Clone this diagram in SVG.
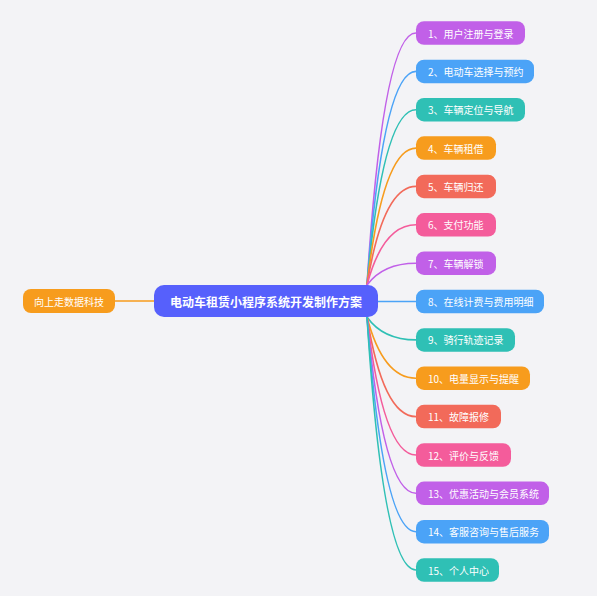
<svg xmlns="http://www.w3.org/2000/svg" width="597" height="596" viewBox="0 0 597 596">
<style>
.t{font-family:"Noto Sans CJK SC","Noto Sans",sans-serif;fill:#fff;dominant-baseline:central}
.s{font-size:10px}
.c{fill:none;stroke-width:1.6;stroke-linecap:round}
.pu{fill:#c160e8}.bl{fill:#4ba3f7}.te{fill:#2fc0b5}.or{fill:#f79c1d}.co{fill:#f26a5a}.pk{fill:#f45c9b}
.spu{stroke:#c160e8}.sbl{stroke:#4ba3f7}.ste{stroke:#2fc0b5}.sor{stroke:#f79c1d}.sco{stroke:#f26a5a}.spk{stroke:#f45c9b}
</style>
<rect width="597" height="596" fill="#f3f3f6"/>
<g id="connectors">
<path class="c sor" d="M115 301 H154"/>
<path class="c spu" d="M367 285 Q383 33 416 33"/>
<path class="c sbl" d="M367 285 Q383 71.4 416 71.4"/>
<path class="c ste" d="M367 285 Q383 109.7 416 109.7"/>
<path class="c sor" d="M367 285 Q383 148.1 416 148.1"/>
<path class="c sco" d="M367 285 Q383 186.4 416 186.4"/>
<path class="c spk" d="M367 285 Q383 224.8 416 224.8"/>
<path class="c spu" d="M367 285 Q383 263.2 416 263.2"/>
<path class="c sbl" d="M367 301.5 H416"/>
<path class="c ste" d="M367 317 Q383 339.9 416 339.9"/>
<path class="c sor" d="M367 317 Q383 378.2 416 378.2"/>
<path class="c sco" d="M367 317 Q383 416.6 416 416.6"/>
<path class="c spk" d="M367 317 Q383 455 416 455"/>
<path class="c spu" d="M367 317 Q383 493.3 416 493.3"/>
<path class="c sbl" d="M367 317 Q383 531.7 416 531.7"/>
<path class="c ste" d="M367 317 Q383 570 416 570"/>
</g>
<g id="center">
<rect x="154" y="285" width="224" height="32" rx="10" fill="#5660fc"/>
<text class="t" x="266" y="301" font-size="12" font-weight="bold" text-anchor="middle">电动车租赁小程序系统开发制作方案</text>
</g>
<g id="left">
<rect x="23" y="289" width="92" height="24" rx="8" fill="#f79c1d"/>
<text class="t s" x="69" y="301" text-anchor="middle">向上走数据科技</text>
</g>
<g id="n1"><rect class="pu" x="416" y="21.25" width="109" height="23.5" rx="8"/><text class="t s" x="428" y="33">1、用户注册与登录</text></g>
<g id="n2"><rect class="bl" x="416" y="59.65" width="118" height="23.5" rx="8"/><text class="t s" x="428" y="71.4">2、电动车选择与预约</text></g>
<g id="n3"><rect class="te" x="416" y="97.95" width="109" height="23.5" rx="8"/><text class="t s" x="428" y="109.7">3、车辆定位与导航</text></g>
<g id="n4"><rect class="or" x="416" y="136.35" width="80" height="23.5" rx="8"/><text class="t s" x="428" y="148.1">4、车辆租借</text></g>
<g id="n5"><rect class="co" x="416" y="174.65" width="80" height="23.5" rx="8"/><text class="t s" x="428" y="186.4">5、车辆归还</text></g>
<g id="n6"><rect class="pk" x="416" y="213.05" width="80" height="23.5" rx="8"/><text class="t s" x="428" y="224.8">6、支付功能</text></g>
<g id="n7"><rect class="pu" x="416" y="251.45" width="80" height="23.5" rx="8"/><text class="t s" x="428" y="263.2">7、车辆解锁</text></g>
<g id="n8"><rect class="bl" x="416" y="289.75" width="128" height="23.5" rx="8"/><text class="t s" x="428" y="301.5">8、在线计费与费用明细</text></g>
<g id="n9"><rect class="te" x="416" y="328.15" width="99" height="23.5" rx="8"/><text class="t s" x="428" y="339.9">9、骑行轨迹记录</text></g>
<g id="n10"><rect class="or" x="416" y="366.45" width="114" height="23.5" rx="8"/><text class="t s" x="428" y="378.2">10、电量显示与提醒</text></g>
<g id="n11"><rect class="co" x="416" y="404.85" width="85" height="23.5" rx="8"/><text class="t s" x="428" y="416.6">11、故障报修</text></g>
<g id="n12"><rect class="pk" x="416" y="443.25" width="95" height="23.5" rx="8"/><text class="t s" x="428" y="455">12、评价与反馈</text></g>
<g id="n13"><rect class="pu" x="416" y="481.55" width="133" height="23.5" rx="8"/><text class="t s" x="428" y="493.3">13、优惠活动与会员系统</text></g>
<g id="n14"><rect class="bl" x="416" y="519.95" width="133" height="23.5" rx="8"/><text class="t s" x="428" y="531.7">14、客服咨询与售后服务</text></g>
<g id="n15"><rect class="te" x="416" y="558.25" width="83" height="23.5" rx="8"/><text class="t s" x="428" y="570">15、个人中心</text></g>
</svg>
